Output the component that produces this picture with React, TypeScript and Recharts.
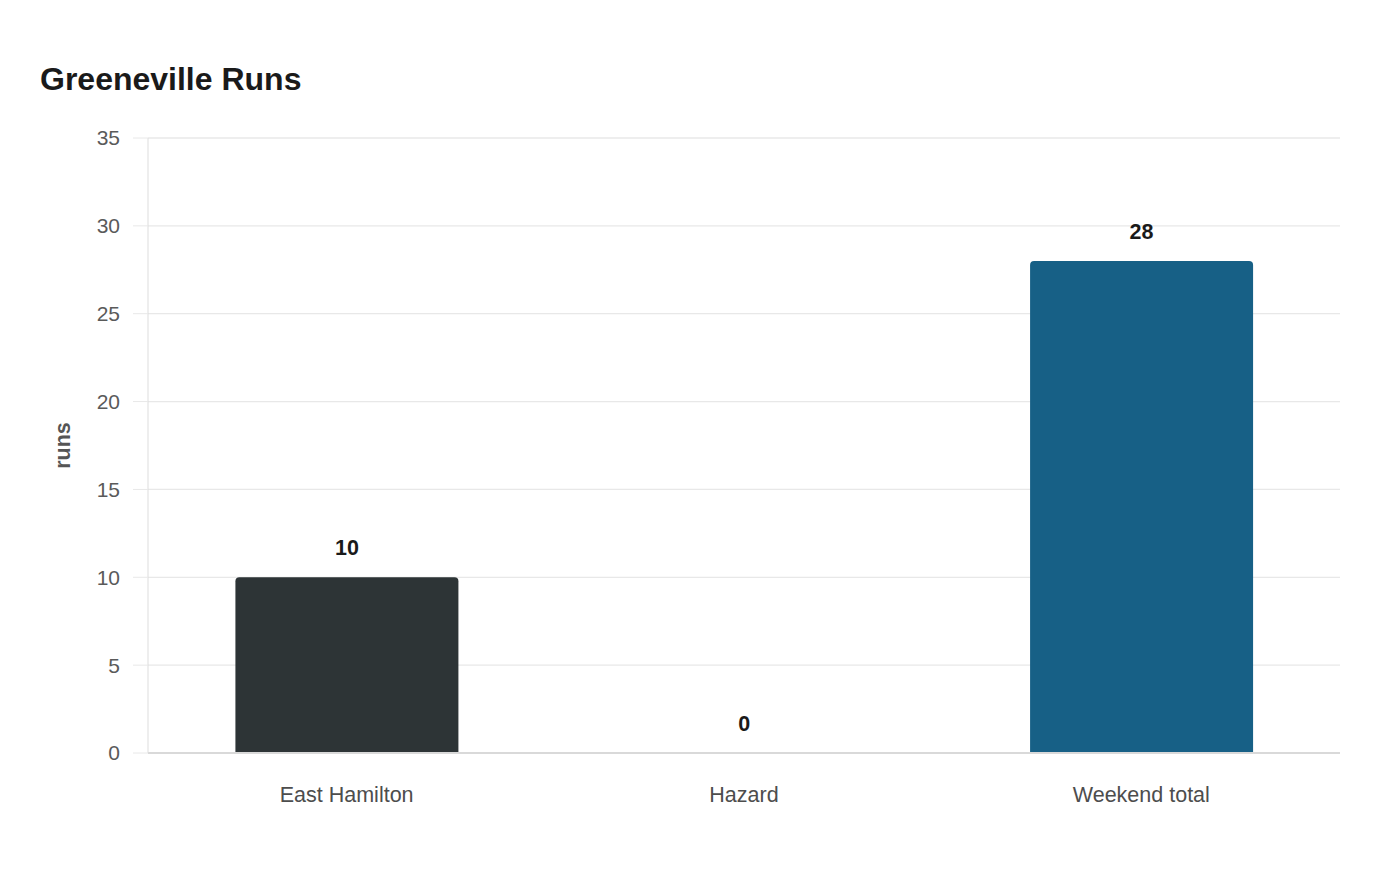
import { BarChart, Bar, XAxis, YAxis, CartesianGrid, Cell, LabelList } from "recharts";

const TEAMS = ["East Hamilton", "Hazard", "Weekend total"];
const RUNS = [10, 0, 28];
const BAR_COLORS = ["#2d3436", "#2d3436", "#176086"];
const Y_TICKS = [0, 5, 10, 15, 20, 25, 30, 35];

const FONT = "'Liberation Sans', Arial, sans-serif";

// value label above each bar, drawn by hand so the zero bar still gets one
const renderValue = (props: any) => {
  const { x, y, width, value } = props;
  return (
    <text
      x={Number(x) + Number(width) / 2}
      y={Number(y) - 22}
      textAnchor="middle"
      fill="#1a1a1a"
      fontSize={21.5}
      fontWeight={700}
    >
      {value}
    </text>
  );
};

export default function App() {
  const data = TEAMS.map((team, i) => ({ team, runs: RUNS[i] }));

  return (
    <div style={{ position: "absolute", left: 0, top: 0, width: 1400, height: 880, background: "#fff", fontFamily: FONT }}>
      <div
        style={{
          position: "absolute",
          left: 40,
          top: 63,
          fontSize: 32,
          lineHeight: "32px",
          fontWeight: 700,
          color: "#1a1a1a",
        }}
      >
        Greeneville Runs
      </div>
      <BarChart
        width={1400}
        height={880}
        data={data}
        margin={{ top: 138, right: 60, bottom: 77, left: 40 }}
        barCategoryGap="22%"
        style={{ fontFamily: FONT }}
      >
        <CartesianGrid vertical={false} stroke="#e8e8e8" strokeWidth={1.3} />
        <XAxis
          dataKey="team"
          height={50}
          tickLine={false}
          tickSize={0}
          tickMargin={34}
          axisLine={{ stroke: "#d9d9d9", strokeWidth: 2 }}
          tick={{ fill: "#4d4d4d", fontSize: 21.5 }}
        />
        <YAxis
          width={108}
          domain={[0, 35]}
          ticks={Y_TICKS}
          tickSize={15}
          tickMargin={13}
          tickLine={{ stroke: "#e8e8e8" }}
          axisLine={{ stroke: "#dddddd" }}
          tick={{ fill: "#5a5a5a", fontSize: 21 }}
          label={{
            content: ({ viewBox }: any) => {
              const cx = viewBox.x + 23;
              const cy = viewBox.y + viewBox.height / 2;
              return (
                <text
                  x={cx}
                  y={cy}
                  transform={`rotate(-90, ${cx}, ${cy})`}
                  textAnchor="middle"
                  dominantBaseline="central"
                  fill="#555555"
                  fontSize={21.5}
                  fontWeight={700}
                >
                  runs
                </text>
              );
            },
          }}
        />
        <Bar dataKey="runs" radius={[4, 4, 0, 0]} minPointSize={0.01} isAnimationActive={false}>
          {data.map((d, i) => (
            <Cell key={d.team} fill={BAR_COLORS[i]} />
          ))}
          <LabelList dataKey="runs" content={renderValue} />
        </Bar>
      </BarChart>
    </div>
  );
}
